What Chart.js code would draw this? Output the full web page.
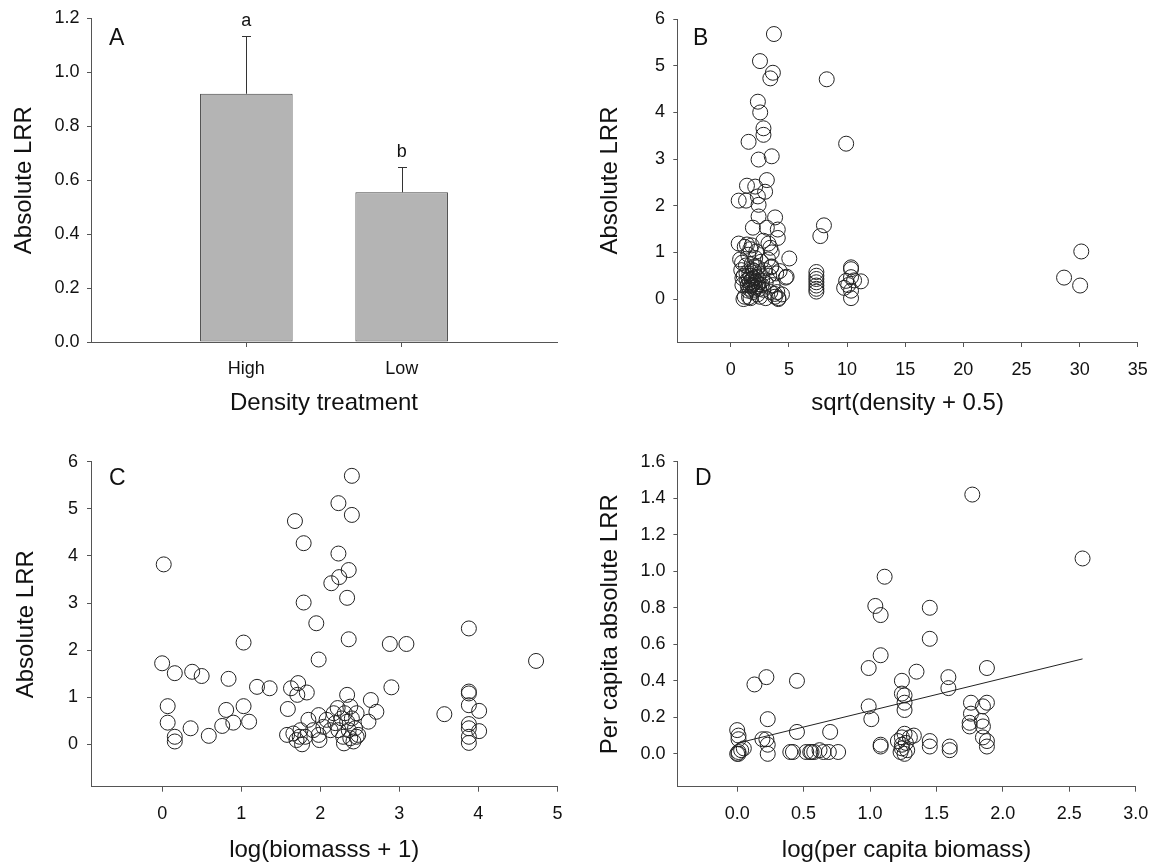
<!DOCTYPE html>
<html>
<head>
<meta charset="utf-8">
<script src="https://cdn.jsdelivr.net/npm/chart.js@4.4.1/dist/chart.umd.min.js"></script>
<style>
  body { margin: 0; background: #fff; }
  #wrap { position: relative; width: 1160px; height: 865px; }
  canvas { position: absolute; }
</style>
</head>
<body>
<div id="wrap">
  <canvas id="chartA" width="580" height="420" style="left:0;top:0;width:580px;height:420px"></canvas>
  <canvas id="chartB" width="580" height="420" style="left:580px;top:0;width:580px;height:420px"></canvas>
  <canvas id="chartC" width="580" height="445" style="left:0;top:420px;width:580px;height:445px"></canvas>
  <canvas id="chartD" width="580" height="445" style="left:580px;top:420px;width:580px;height:445px"></canvas>
</div>
<script>
// ---- data ----
// A: mean absolute LRR by density treatment (padded with empty slots at both ends)
var catsA = ['', 'High', 'Low', ''];
var meansA = [null, 0.92, 0.555, null];
var errA = [null, 0.215, 0.095, null];
var lettersA = ['', 'a', 'b', ''];
var yTicksA = [0, 0.2, 0.4, 0.6, 0.8, 1.0, 1.2];

// B: [sqrt(density + 0.5), absolute LRR]
var pointsB = [
  [3.71,5.68],[2.51,5.10],[3.62,4.85],[3.40,4.73],[8.25,4.71],[2.33,4.23],[2.53,4.00],[2.81,3.66],
  [2.81,3.52],[1.53,3.37],[9.92,3.33],[2.39,2.99],[3.52,3.06],[3.10,2.55],[1.39,2.43],[2.10,2.41],
  [2.95,2.30],[0.68,2.11],[1.31,2.11],[2.33,2.20],[2.39,2.02],[2.39,1.77],[3.81,1.75],[1.90,1.53],
  [3.10,1.53],[4.04,1.49],[4.04,1.31],[8.01,1.58],[7.70,1.35],[0.68,1.19],[1.39,1.17],[1.68,1.07],
  [3.24,1.19],[3.52,1.00],[5.03,0.87],[0.97,0.78],[1.11,0.50],[4.72,0.46],[3.46,0.68],[3.78,0.11],
  [4.09,0.00],[1.09,0.00],[1.57,0.04],
  [7.36,0.58],[7.36,0.50],[7.36,0.43],[7.36,0.36],[7.36,0.29],[7.36,0.22],[7.36,0.16],
  [10.34,0.68],[10.34,0.64],[10.34,0.47],[9.92,0.39],[9.75,0.24],[10.10,0.30],[10.34,0.18],[10.34,0.02],
  [11.19,0.38],[10.60,0.40],
  [28.66,0.46],[30.14,1.02],[30.04,0.29],
  [0.80,0.85],[0.90,0.62],[1.00,0.45],[1.00,0.30],[1.20,0.05],[1.30,0.72],[1.40,0.40],[1.50,0.18],
  [1.50,0.95],[1.60,0.55],[1.70,0.28],[1.70,0.02],[1.80,0.75],[1.80,0.42],[1.90,0.15],[2.00,0.35],
  [2.00,0.60],[2.10,0.25],[2.10,0.88],[2.20,0.48],[2.30,0.10],[2.30,0.68],[2.40,0.32],[2.50,0.55],
  [2.50,0.05],[2.60,0.80],[2.70,0.40],[2.80,0.20],[2.90,0.62],[3.00,0.02],[3.00,0.35],[3.20,0.85],
  [3.30,0.50],[3.40,0.15],[3.50,0.70],[3.60,0.30],[3.80,0.05],[3.90,0.55],[4.00,0.15],[4.10,0.02],
  [4.20,0.60],[4.40,0.10],[4.80,0.48],[2.20,1.02],[1.20,1.12],[1.80,1.15],[2.80,1.25],[3.40,1.10],
  [1.45,0.30],[1.55,0.42],[1.65,0.36],[1.75,0.50],[1.85,0.30],[1.95,0.45],[2.05,0.20],[2.15,0.38],
  [2.25,0.28],[2.35,0.45],[1.60,0.22],[1.90,0.62],[2.45,0.22],[1.35,0.55],[2.65,0.30],[2.05,0.70]
];
var xTicksB = [0, 5, 10, 15, 20, 25, 30, 35];
var yTicksB = [0, 1, 2, 3, 4, 5, 6];

// C: [log(biomass + 1), absolute LRR]
var pointsC = [
  [0.02,3.82],[0.00,1.72],[0.16,1.51],[0.38,1.54],[0.50,1.45],[0.84,1.39],[1.03,2.16],[1.20,1.22],
  [1.36,1.19],[0.07,0.81],[0.07,0.46],[0.16,0.16],[0.16,0.06],[0.36,0.34],[0.59,0.18],[0.76,0.39],
  [0.81,0.73],[0.90,0.46],[1.03,0.81],[1.10,0.48],[1.63,1.19],[1.72,1.30],[1.71,1.05],[1.83,1.10],
  [1.59,0.75],[1.68,4.74],[1.79,4.27],[1.79,3.01],[1.95,2.57],[1.98,1.80],[2.23,4.05],[2.14,3.42],
  [2.24,3.55],[2.36,3.70],[2.34,3.11],[2.36,2.23],[2.34,1.05],[2.23,5.12],[2.40,4.87],[2.40,5.70],
  [2.88,2.13],[3.09,2.13],[2.90,1.21],[2.64,0.94],[2.71,0.69],[2.61,0.48],[2.46,0.16],
  [1.58,0.20],[1.66,0.23],[1.70,0.09],[1.75,0.30],[1.77,0.00],[1.81,0.16],[1.85,0.52],[1.91,0.30],
  [1.98,0.20],[1.98,0.62],[2.04,0.37],[2.08,0.52],[2.13,0.30],[2.17,0.66],[2.19,0.45],[2.23,0.30],
  [2.27,0.55],[2.29,0.16],[2.31,0.66],[2.34,0.48],[2.36,0.30],[2.38,0.13],[2.40,0.55],[2.42,0.06],
  [2.44,0.34],[2.46,0.66],[2.48,0.20],[2.22,0.77],[2.38,0.80],[1.74,0.16],[1.99,0.09],[2.30,0.02],
  [3.57,0.64],[3.88,2.46],[3.88,1.12],[3.88,1.08],[3.88,0.83],[4.01,0.71],[3.88,0.43],[3.88,0.34],
  [4.01,0.28],[3.88,0.16],[3.88,0.03],[4.73,1.77]
];
var xTicksC = [0, 1, 2, 3, 4, 5];
var yTicksC = [0, 1, 2, 3, 4, 5, 6];

// D: [log(per capita biomass), per capita absolute LRR]
var pointsD = [
  [1.77,1.42],[2.60,1.07],[1.11,0.97],[1.04,0.81],[1.08,0.76],[1.45,0.80],[1.45,0.63],[1.08,0.54],
  [0.99,0.47],[1.35,0.45],[1.24,0.40],[1.59,0.42],[1.59,0.36],[1.88,0.47],[0.13,0.38],[0.22,0.42],
  [0.45,0.40],[1.24,0.33],[1.26,0.32],[1.26,0.28],[1.26,0.24],[0.99,0.26],[1.01,0.19],[0.23,0.19],
  [1.76,0.28],[1.76,0.22],[1.75,0.17],[1.75,0.15],[1.85,0.26],[1.88,0.28],[1.84,0.18],[1.85,0.15],
  [1.85,0.09],[1.88,0.07],[1.88,0.04],[0.00,0.13],[0.01,0.10],[0.01,0.08],[0.00,0.00],[0.01,0.00],
  [0.01,0.01],[0.03,0.02],[0.05,0.03],[0.19,0.08],[0.22,0.08],[0.23,0.05],[0.23,0.00],[0.45,0.12],
  [0.40,0.01],[0.42,0.01],[0.52,0.01],[0.55,0.01],[0.56,0.01],[0.58,0.01],[0.62,0.02],[0.65,0.01],
  [0.69,0.01],[0.76,0.01],[0.70,0.12],[1.08,0.05],[1.08,0.04],[1.45,0.07],[1.45,0.04],[1.60,0.04],
  [1.60,0.02],[1.21,0.07],[1.24,0.09],[1.24,0.03],[1.26,0.00],[1.26,0.11],[1.27,0.06],[1.28,0.02],
  [1.23,0.01],[1.30,0.09],[1.33,0.10],[1.24,0.05]
];
// fitted regression line end points
var fitXD = [0.0, 2.6];
var fitYD = [0.058, 0.52];
var xTicksD = [0, 0.5, 1.0, 1.5, 2.0, 2.5, 3.0];
var yTicksD = [0, 0.2, 0.4, 0.6, 0.8, 1.0, 1.2, 1.4, 1.6];

// ---- styling ----
var FONT = "'Liberation Sans', Arial, Helvetica, sans-serif";
var INK = '#111';
var AXIS = '#555';

Chart.defaults.font.family = FONT;
Chart.defaults.color = INK;

function axis(o) {
  return {
    type: o.type || 'linear',
    min: o.min,
    max: o.max,
    offset: false,
    border: { display: true, color: AXIS, width: 1 },
    grid: { offset: false, drawOnChartArea: false, drawTicks: true, tickLength: o.tl, color: AXIS, tickColor: AXIS, tickWidth: 1 },
    ticks: { color: INK, font: { family: FONT, size: 18 }, padding: o.pad, maxRotation: 0, autoSkip: false,
      callback: o.fmt },
    title: { display: true, text: o.title, color: INK, font: { family: FONT, size: 24 }, padding: o.titlePad },
    afterBuildTicks: function (s) {
      if (o.ticks) s.ticks = o.ticks.map(function (v) { return { value: v }; });
    },
    afterFit: function (s) {
      if (o.width) s.width = o.width;
      if (o.height) s.height = o.height;
    }
  };
}

function panelLetter(text, x, y) {
  return {
    id: 'panelLetter',
    afterDraw: function (chart) {
      var ctx = chart.ctx;
      ctx.save();
      ctx.fillStyle = INK;
      ctx.font = '23px ' + FONT;
      ctx.textAlign = 'left';
      ctx.textBaseline = 'alphabetic';
      ctx.fillText(text, x, y);
      ctx.restore();
    }
  };
}

var errorBars = {
  id: 'errorBars',
  afterDatasetsDraw: function (chart) {
    var meta = chart.getDatasetMeta(0);
    var y = chart.scales.y;
    var ctx = chart.ctx;
    ctx.save();
    ctx.strokeStyle = '#333';
    ctx.lineWidth = 1;
    ctx.fillStyle = INK;
    ctx.font = '18px ' + FONT;
    ctx.textAlign = 'center';
    ctx.textBaseline = 'alphabetic';
    meta.data.forEach(function (bar, i) {
      if (meansA[i] == null) return;
      var x = Math.round(bar.x) + 0.5;
      var top = Math.round(y.getPixelForValue(meansA[i] + errA[i])) + 0.5;
      var base = y.getPixelForValue(meansA[i]);
      ctx.beginPath();
      ctx.moveTo(x, base);
      ctx.lineTo(x, top);
      ctx.moveTo(x - 4.5, top);
      ctx.lineTo(x + 4.5, top);
      ctx.stroke();
      ctx.fillText(lettersA[i], bar.x, top - 11);
    });
    ctx.restore();
  }
};

function fmt1(v) { return Number(v).toFixed(1); }
function fmt0(v) { return String(v); }
function fmtCat(v) { return catsA[v]; }

var common = {
  responsive: false,
  animation: false,
  events: [],
  plugins: { legend: { display: false }, tooltip: { enabled: false } }
};

function circles(points) {
  return {
    type: 'scatter',
    data: points.map(function (p) { return { x: p[0], y: p[1] }; }),
    pointStyle: 'circle',
    pointRadius: 7.5,
    pointBackgroundColor: 'rgba(0,0,0,0)',
    pointBorderColor: '#222',
    pointBorderWidth: 1,
    clip: false
  };
}

// ---- A ----
new Chart(document.getElementById('chartA'), {
  type: 'bar',
  data: {
    labels: catsA,
    datasets: [{
      data: meansA,
      backgroundColor: '#b4b4b4',
      borderColor: '#444',
      borderWidth: 1,
      borderSkipped: false,
      categoryPercentage: 1,
      barPercentage: 0.596
    }]
  },
  options: Object.assign({}, common, {
    layout: { padding: { left: 0, top: 17, right: 23, bottom: 0 } },
    scales: {
      x: Object.assign(axis({ type: 'category', tl: 5, pad: 11.2, fmt: fmtCat, title: 'Density treatment',
        titlePad: { top: 0, bottom: 2.6 }, height: 78 }), {
        afterBuildTicks: function (s) {
          s.ticks = s.ticks.filter(function (t) { return catsA[t.value] !== ''; });
        }
      }),
      y: axis({ min: 0, max: 1.2, ticks: yTicksA, tl: 4, pad: 7.4, fmt: fmt1, title: 'Absolute LRR',
        titlePad: { top: 9.6, bottom: 0 }, width: 91 })
    }
  }),
  plugins: [errorBars, panelLetter('A', 109, 45)]
});

// ---- B ----
new Chart(document.getElementById('chartB'), {
  type: 'scatter',
  data: { datasets: [circles(pointsB)] },
  options: Object.assign({}, common, {
    layout: { padding: { left: 0, top: 16, right: 17.3, bottom: 0 } },
    scales: {
      x: axis({ min: -4.6, max: 35, ticks: xTicksB, tl: 5, pad: 12.2, fmt: fmt0, title: 'sqrt(density + 0.5)',
        titlePad: { top: 0, bottom: 2.6 }, height: 78 }),
      y: axis({ min: -0.92, max: 6, ticks: yTicksB, tl: 4, pad: 8.3, fmt: fmt0, title: 'Absolute LRR',
        titlePad: { top: 15.6, bottom: 0 }, width: 97.3 })
    }
  }),
  plugins: [panelLetter('B', 113, 45)]
});

// ---- C ----
new Chart(document.getElementById('chartC'), {
  type: 'scatter',
  data: { datasets: [circles(pointsC)] },
  options: Object.assign({}, common, {
    layout: { padding: { left: 0, top: 41.7, right: 22.6, bottom: 0 } },
    scales: {
      x: axis({ min: -0.9, max: 5, ticks: xTicksC, tl: 5, pad: 11.8, fmt: fmt0, title: 'log(biomasss + 1)',
        titlePad: { top: 0, bottom: 0.6 }, height: 78.3 }),
      y: axis({ min: -0.9, max: 6, ticks: yTicksC, tl: 4, pad: 9, fmt: fmt0, title: 'Absolute LRR',
        titlePad: { top: 11.6, bottom: 0 }, width: 91 })
    }
  }),
  plugins: [panelLetter('C', 109, 65)]
});

// ---- D ----
new Chart(document.getElementById('chartD'), {
  type: 'scatter',
  data: {
    datasets: [
      circles(pointsD),
      {
        type: 'line',
        data: fitXD.map(function (x, i) { return { x: x, y: fitYD[i] }; }),
        borderColor: '#222',
        borderWidth: 1,
        pointRadius: 0,
        fill: false,
        showLine: true
      }
    ]
  },
  options: Object.assign({}, common, {
    layout: { padding: { left: 0, top: 41.7, right: 17, bottom: 0 } },
    scales: {
      x: axis({ min: -0.45, max: 3.0, ticks: xTicksD, tl: 5, pad: 11.8, fmt: fmt1, title: 'log(per capita biomass)',
        titlePad: { top: 0, bottom: 0.6 }, height: 78.3 }),
      y: axis({ min: -0.18, max: 1.6, ticks: yTicksD, tl: 4, pad: 8, fmt: fmt1, title: 'Per capita absolute LRR',
        titlePad: { top: 15.6, bottom: 0 }, width: 97.4 })
    }
  }),
  plugins: [panelLetter('D', 115, 65)]
});
</script>
</body>
</html>
